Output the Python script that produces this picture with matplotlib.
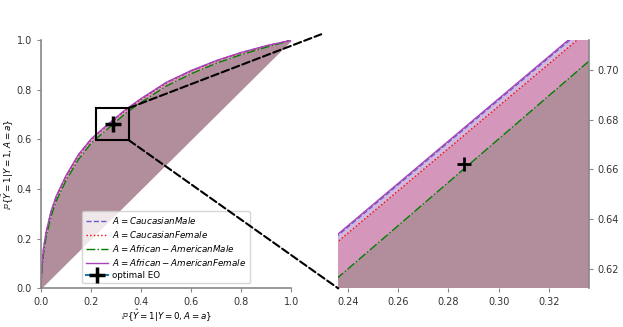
import matplotlib
matplotlib.use("Agg")
import matplotlib.pyplot as plt
from matplotlib.patches import Rectangle, ConnectionPatch

# ROC curves per group (shared false positive rates)
fpr = [0, 0.002, 0.005, 0.01, 0.02, 0.04, 0.06, 0.1, 0.15, 0.2, 0.236, 0.336,
       0.4, 0.5, 0.6, 0.7, 0.8, 0.9, 1.0]
tpr_cm = [0, 0.062, 0.10, 0.158, 0.223, 0.308, 0.368, 0.453, 0.538, 0.601, 0.6335, 0.7185,
          0.764, 0.829, 0.877, 0.917, 0.95, 0.977, 1.0]
tpr_cf = [0, 0.058, 0.097, 0.155, 0.22, 0.305, 0.365, 0.45, 0.535, 0.598, 0.631, 0.716,
          0.762, 0.827, 0.876, 0.916, 0.95, 0.977, 1.0]
tpr_am = [0, 0.05, 0.085, 0.14, 0.205, 0.29, 0.35, 0.435, 0.52, 0.584, 0.6165, 0.7035,
          0.75, 0.815, 0.865, 0.907, 0.942, 0.972, 1.0]
tpr_af = [0, 0.062, 0.10, 0.16, 0.225, 0.31, 0.37, 0.455, 0.54, 0.602, 0.634, 0.719,
          0.765, 0.83, 0.878, 0.918, 0.951, 0.978, 1.0]

labels = ["$A=CaucasianMale$", "$A=CaucasianFemale$",
          "$A=African-AmericanMale$", "$A=African-AmericanFemale$"]
curves = [tpr_cm, tpr_cf, tpr_am, tpr_af]
fill_colors = ["slateblue", "red", "green", "purple"]
line_colors = ["slateblue", "red", "green", "#a844b8"]
styles = ["--", ":", "-.", "-"]

eo_fpr, eo_tpr = 0.286, 0.662
zoom = 0.05

fig = plt.figure(figsize=(6.23, 3.27), dpi=100)
ax = fig.add_axes([0.0658, 0.118, 0.402, 0.759])
axin = fig.add_axes([0.543, 0.118, 0.402, 0.759])


def draw(a, ms, mew):
    for tpr, fc, lc, ls, lab in zip(curves, fill_colors, line_colors, styles, labels):
        a.fill_between(fpr, fpr, tpr, color=fc, alpha=0.18, lw=0)
        a.plot(fpr, tpr, color=lc, ls=ls, lw=1.0, label=lab)
    a.plot([eo_fpr], [eo_tpr], marker="+", markersize=ms, markeredgewidth=mew,
           markeredgecolor="black", label="optimal EO")


draw(ax, 11, 2.5)
draw(axin, 10, 2)

ax.set_xlim(0, 1)
ax.set_ylim(0, 1)
ax.set_xticks([0, 0.2, 0.4, 0.6, 0.8, 1.0])
ax.set_yticks([0, 0.2, 0.4, 0.6, 0.8, 1.0])
ax.set_xlabel(r"$\mathbb{P}\{\hat{Y}=1|Y=0, A=a\}$", fontsize=6.3)
ax.set_ylabel(r"$\mathbb{P}\{\hat{Y}=1|Y=1, A=a\}$", fontsize=6.3)
ax.xaxis.set_label_coords(0.5, -0.078)
ax.yaxis.set_label_coords(-0.1, 0.5)
for s in ["top", "right"]:
    ax.spines[s].set_visible(False)
for s in ["left", "bottom"]:
    ax.spines[s].set_color("#888888")
    ax.spines[s].set_linewidth(1.2)
ax.tick_params(labelsize=7, color="#888888", length=3, labelcolor="#333333")

ax.legend(loc="lower left", bbox_to_anchor=(0.165, 0.02), fontsize=6.3,
          handlelength=2.5, handletextpad=0.5, labelspacing=0.35,
          borderpad=0.4, framealpha=0.8, borderaxespad=0)

axin.set_xlim(eo_fpr - zoom, eo_fpr + zoom)
axin.set_ylim(eo_tpr - zoom, eo_tpr + zoom)
axin.set_xticks([0.24, 0.26, 0.28, 0.30, 0.32])
axin.set_yticks([0.62, 0.64, 0.66, 0.68, 0.70])
axin.yaxis.tick_right()
for s in ["top", "left", "bottom"]:
    axin.spines[s].set_visible(False)
axin.spines["right"].set_color("#888888")
axin.spines["right"].set_linewidth(1.2)
axin.tick_params(labelsize=7, color="#888888", length=3, labelcolor="#333333")

half = 0.065
ax.add_patch(Rectangle((eo_fpr - half, eo_tpr - half), 2 * half, 2 * half,
                       fill=False, ec="black", lw=1.5, zorder=5))

c1 = ConnectionPatch(xyA=(eo_fpr + half, eo_tpr + half), coordsA=ax.transData,
                     xyB=(-0.068, 1.024), coordsB=axin.transAxes,
                     ls="--", lw=1.5, color="black", zorder=10)
c2 = ConnectionPatch(xyA=(eo_fpr + half, eo_tpr - half), coordsA=ax.transData,
                     xyB=(0, 0), coordsB=axin.transAxes,
                     ls="--", lw=1.5, color="black", zorder=10)
fig.add_artist(c1)
fig.add_artist(c2)

fig.savefig("out.png", dpi=100)
